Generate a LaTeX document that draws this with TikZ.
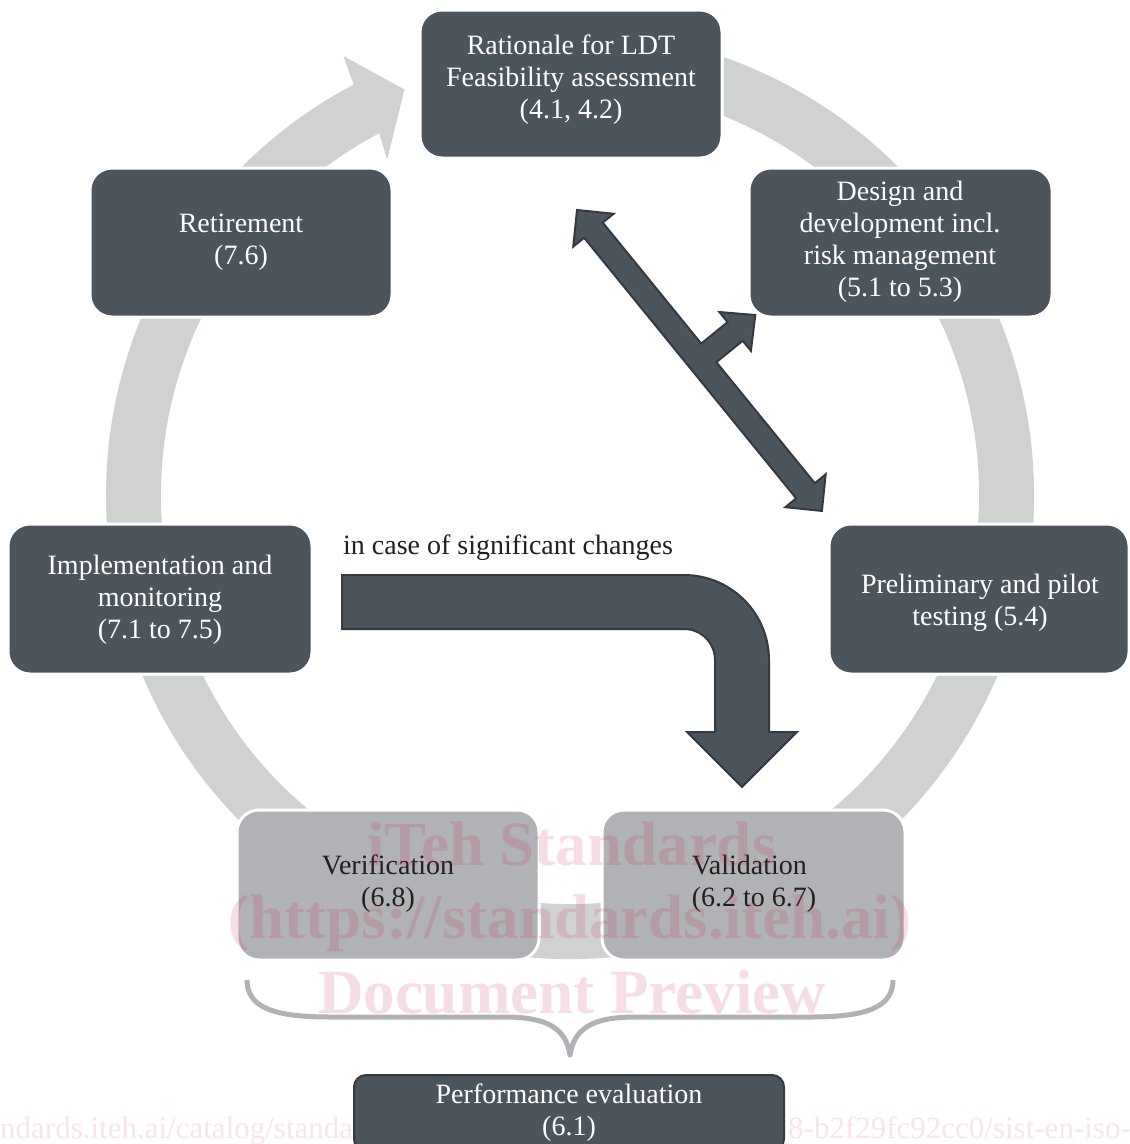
\documentclass[tikz,border=0pt]{standalone}
\usepackage{fontspec}
\setmainfont{Liberation Serif}
\usetikzlibrary{calc}
\definecolor{ringgray}{RGB}{208,210,209}
\definecolor{darkbox}{RGB}{76,84,92}
\definecolor{darkline}{RGB}{52,58,64}
\definecolor{lightbox}{RGB}{177,178,182}
\definecolor{bracegray}{RGB}{177,178,182}
\definecolor{txtdark}{RGB}{35,31,32}
\definecolor{wmark}{RGB}{200,30,80}
\begin{document}
\begin{tikzpicture}[x=1pt,y=1pt,
  dbox/.style={draw=white, line width=3pt, fill=darkbox, rounded corners=22pt, inner sep=0pt},
  lbox/.style={draw=white, line width=3pt, fill=lightbox, rounded corners=22pt, inner sep=0pt},
  pbox/.style={draw=darkline, line width=2pt, fill=darkbox, rounded corners=12pt, inner sep=0pt},
  wtext/.style={text=white, align=center, font=\fontsize{28}{32}\selectfont, inner sep=0pt},
  ktext/.style={text=txtdark, font=\fontsize{28}{32}\selectfont, inner sep=0pt},
  blockarrow/.style={fill=darkbox, draw=darkline, line width=2pt, line join=miter},
  wm/.style={text=wmark, opacity=0.15, font=\bfseries\fontsize{63}{74}\selectfont, inner sep=0pt},
  wmurl/.style={text=wmark, opacity=0.12, font=\fontsize{31}{34}\selectfont, inner sep=0pt}
]
\useasboundingbox (0,0) rectangle (1130,-1144);
\clip (0,0) rectangle (1130,-1144);
\coordinate (C) at (570,-495);
% circular ring arrow
\fill[ringgray] ($(C)+(100:464)$) arc[start angle=100, end angle=-242.2, radius=464pt]
  -- ($(C)+(117.3:494)$) -- ($(C)+(112.2:438)$) -- ($(C)+(118.6:382)$)
  -- ($(C)+(117.8:409)$) arc[start angle=-242.2, end angle=100, radius=409pt] -- cycle;
% boxes
\node[dbox, minimum width=302pt, minimum height=148pt] (rat) at (571,-84) {};
\node[dbox, minimum width=302pt, minimum height=149pt] (ret) at (241,-242.5) {};
\node[dbox, minimum width=303pt, minimum height=149pt] (des) at (900.5,-242.5) {};
\node[dbox, minimum width=304pt, minimum height=150pt] (imp) at (160,-599) {};
\node[dbox, minimum width=300pt, minimum height=150pt] (pre) at (979,-599) {};
\node[lbox, minimum width=302pt, minimum height=150pt] (ver) at (388,-885) {};
\node[lbox, minimum width=303pt, minimum height=150pt] (val) at (753.5,-885) {};
\node[pbox, minimum width=430pt, minimum height=76pt] (perf) at (569,-1113) {};
% texts
\node[wtext] (ratT) at (571,-79.5) {Rationale for LDT\\Feasibility assessment\\(4.1, 4.2)};
\node[wtext] (retT) at (241,-242) {Retirement\\(7.6)};
\node[wtext] (desT) at (900,-242) {Design and\\development incl.\\risk management\\(5.1 to 5.3)};
\node[wtext] (impT) at (160,-600) {Implementation and\\monitoring\\(7.1 to 7.5)};
\node[wtext] (preT) at (980,-603) {Preliminary and pilot\\testing (5.4)};
\node[ktext, align=center] (verT) at (388,-884) {Verification\\(6.8)};
\node[ktext, align=left] (valT) at (754,-884) {Validation\\(6.2 to 6.7)};
\node[wtext] (perfT) at (569,-1113) {Performance evaluation\\(6.1)};
\node[ktext, anchor=west] (chg) at (343,-548) {in case of significant changes};
% double arrow with branch
\begin{scope}[shift={(577,-210)}, rotate=-50.86]
\draw[blockarrow] (0,0) -- (26,26) -- (26,12) -- (182,12) -- (182,46) -- (169,46)
  -- (194,72) -- (219,46) -- (206,46) -- (206,12) -- (362,12) -- (362,26)
  -- (388,0) -- (362,-26) -- (362,-12) -- (26,-12) -- (26,-26) -- cycle;
\end{scope}
% bent arrow
\draw[blockarrow] (342,-575) -- (684,-575) arc[start angle=90, end angle=0, radius=85pt]
  -- (769,-732) -- (797,-732) -- (742,-787) -- (687,-732) -- (715,-732)
  -- (715,-660) arc[start angle=0, end angle=90, radius=31pt] -- (342,-629) -- cycle;
% brace
\draw[bracegray, line width=5pt, line join=round]
  (247,-980) .. controls (247,-1008) and (275,-1017) .. (330,-1017) -- (505,-1017)
  .. controls (550,-1017) and (566,-1030) .. (570,-1055)
  .. controls (574,-1030) and (590,-1017) .. (635,-1017) -- (810,-1017)
  .. controls (865,-1017) and (893,-1008) .. (893,-980);
% watermark
\node[wm, anchor=base] (wm1) at (572,-865) {iTeh Standards};
\node[wm, anchor=base] (wm2) at (570,-938) {(https://standards.iteh.ai)};
\node[wm, anchor=base] (wm3) at (572,-1013) {Document Preview};
\node[wmurl, anchor=base west] (wm4) at (0,-1138) {ndards.iteh.ai/catalog/standa};
\node[wmurl, anchor=base east] (wm5) at (1131,-1138) {8-b2f29fc92cc0/sist-en-iso-};
\end{tikzpicture}
\end{document}
